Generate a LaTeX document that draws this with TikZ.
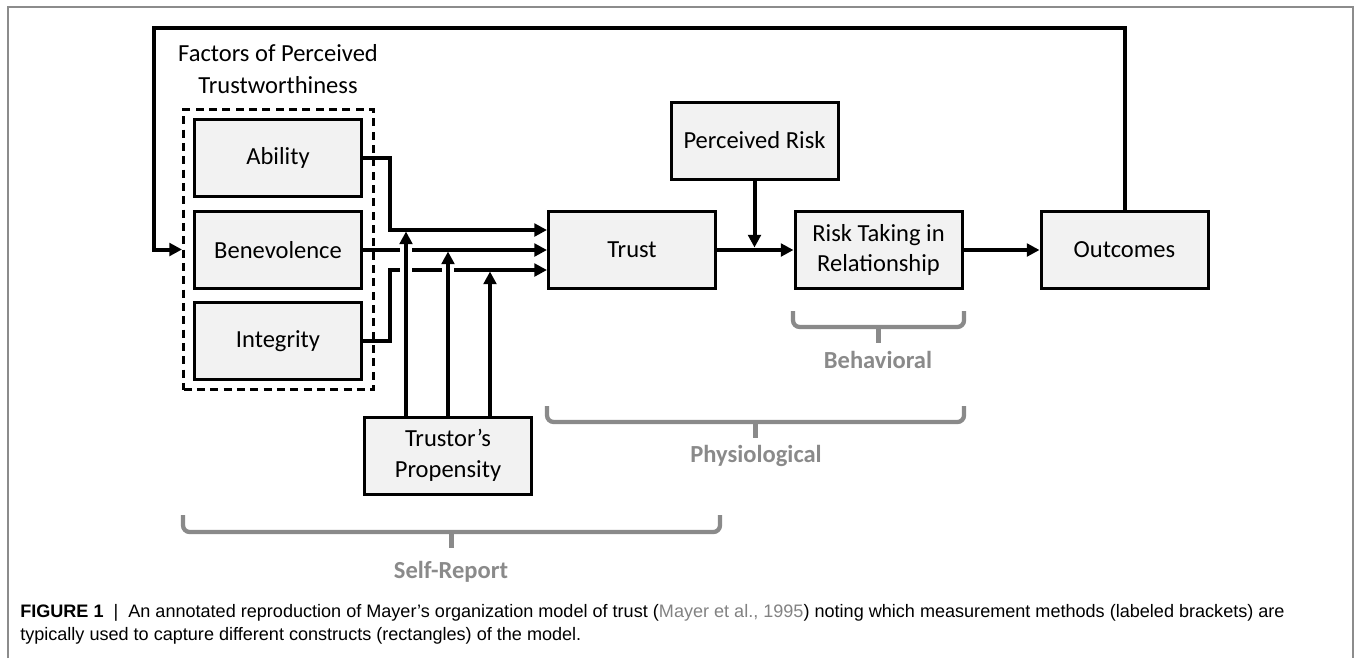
\documentclass[tikz,border=0pt]{standalone}
\usepackage{fontspec}
\setmainfont{Carlito}
\newfontfamily\capfont{Liberation Sans}
\usetikzlibrary{arrows.meta}
\definecolor{boxfill}{RGB}{242,242,242}
\definecolor{brk}{RGB}{138,138,138}
\definecolor{framec}{RGB}{140,140,140}
\definecolor{citec}{RGB}{130,130,130}
\begin{document}
\begin{tikzpicture}[x=0.75pt,y=-0.75pt,
  box/.style={draw=black, line width=2.25pt, fill=boxfill, minimum width=125.25pt,
    minimum height=57.75pt, inner sep=0pt, align=center,
    font=\fontsize{18.4}{23}\selectfont},
  conn/.style={line width=3pt, -{Triangle[length=9.5pt,width=9.5pt]}},
  gapline/.style={white, line width=5pt},
  brace/.style={draw=brk, line width=3.2pt, rounded corners=5pt},
  blabel/.style={text=brk, font=\bfseries\fontsize{18.4}{23}\selectfont},
  grp/.style={draw=black, line width=2.25pt, dash pattern=on 6pt off 4pt,
    minimum width=142.5pt, minimum height=210pt, inner sep=0pt},
  capline/.style={anchor=base west, inner sep=0pt, font=\capfont\fontsize{13.55}{16}\selectfont},
]
\useasboundingbox (0,0) rectangle (1356,658);
% frame
\draw[framec, line width=0.8pt] (8,658) -- (8,7) -- (1353,7) -- (1353,658);

% group box and title
\node[grp] (group) at (278.5,249.5) {};
\node[align=center, font=\fontsize{18.4}{24}\selectfont] (factors) at (278,69)
  {Factors of Perceived\\Trustworthiness};

% boxes
\node[box] (ability) at (278,158) {Ability};
\node[box] (benev) at (278,250) {Benevolence};
\node[box] (integ) at (278,341) {Integrity};
\node[box] (trust) at (632,250) {Trust};
\node[box] (risk) at (878.5,250) {Risk Taking in\\Relationship};
\node[box] (out) at (1124.5,250) {Outcomes};
\node[box] (prisk) at (754.5,140.5) {Perceived Risk};
\node[box] (prop) at (448,455.5) {Trustor’s\\Propensity};

% factor connectors
\draw[conn] (ability.east) -- ++(27,0) |- ([yshift=15pt]trust.west);
\draw[conn] (benev.east) -- (trust.west);
\draw[conn] (integ.east) -- ++(27,0) |- ([yshift=-15pt]trust.west);

% line hops
\coordinate (h1a) at (400,250); \coordinate (h1b) at (412,250);
\coordinate (h2a) at (400,270); \coordinate (h2b) at (412,270);
\coordinate (h3a) at (442,270); \coordinate (h3b) at (454,270);
\draw[gapline] (h1a) -- (h1b);
\draw[gapline] (h2a) -- (h2b);
\draw[gapline] (h3a) -- (h3b);

% propensity connectors
\draw[conn] ([xshift=-31.5pt]prop.north) -- ++(0,-184);
\draw[conn] (prop.north) -- ++(0,-164);
\draw[conn] ([xshift=31.5pt]prop.north) -- ++(0,-144);

% main chain
\draw[conn] (trust.east) -- (risk.west);
\draw[conn] (prisk.south) -- ++(0,67);
\draw[conn] (risk.east) -- (out.west);

% feedback loop
\coordinate (fb) at (154,28);
\draw[conn] (out.north) |- (fb) |- (group.west);

% brackets
\draw[brace] (793,311) -- (793,327) -- (964,327) -- (964,311);
\draw[brk, line width=3.2pt] (878.5,327) -- (878.5,343);
\node[blabel] (behav) at (878,360) {Behavioral};

\draw[brace] (547,406) -- (547,422) -- (964,422) -- (964,406);
\draw[brk, line width=3.2pt] (755.5,422) -- (755.5,438);
\node[blabel] (physio) at (756,456) {Physiological};

\draw[brace] (183,515) -- (183,532) -- (720,532) -- (720,515);
\draw[brk, line width=3.2pt] (451.5,532) -- (451.5,548);
\node[blabel] (self) at (451,572) {Self-Report};

% caption
\node[capline] (cap1) at (20,617) {\textbf{FIGURE 1}\ \ |\ \ An annotated reproduction of Mayer’s organization model of trust (\textcolor{citec}{Mayer et al., 1995}) noting which measurement methods (labeled brackets) are};
\node[capline] (cap2) at (20,640) {typically used to capture different constructs (rectangles) of the model.};
\end{tikzpicture}
\end{document}
